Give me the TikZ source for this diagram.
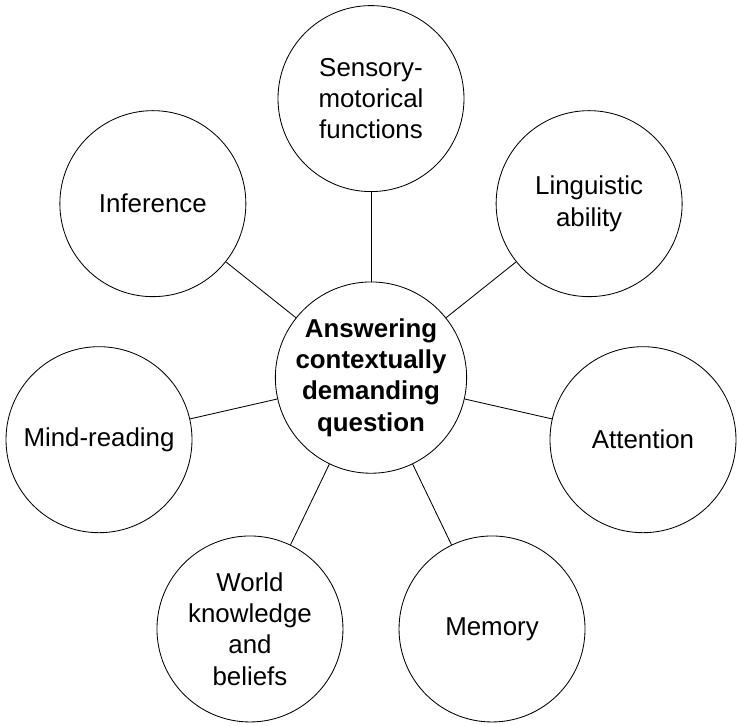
\documentclass[tikz,border=0pt]{standalone}
\usepackage{fontspec}
\setmainfont{Liberation Sans}
\tikzset{
    bubble/.style={draw, circle, minimum size=4.65cm, inner sep=0pt, align=center, line width=0.6pt, font=\fontsize{18.4}{22.3}\selectfont},
    hub/.style={bubble, font=\fontsize{18.4}{22.3}\selectfont\bfseries},
    spoke/.style={line width=0.6pt}
}

\begin{document}
\begin{tikzpicture}

    \useasboundingbox (-9.275,-8.69) rectangle (9.175,9.44);
    \node[hub] (question) at (0,0) {Answering\\contextually\\demanding\\question};
    \node[bubble] (sensory) at (90:6.975) {Sensory-\\motorical\\functions};
    \node[bubble] (inference) at (141.43:6.975) {Inference};
    \node[bubble] (mind) at (192.86:6.975) {Mind-reading};
    \node[bubble] (world) at (244.29:6.975) {World\\knowledge\\and\\beliefs};
    \node[bubble] (memory) at (295.71:6.975) {Memory};
    \node[bubble] (attention) at (347.14:6.975) {Attention};
    \node[bubble] (linguistic) at (38.57:6.975) {Linguistic\\ability};
    \draw[spoke] (question) -- (sensory);
    \draw[spoke] (question) -- (inference);
    \draw[spoke] (question) -- (mind);
    \draw[spoke] (question) -- (world);
    \draw[spoke] (question) -- (memory);
    \draw[spoke] (question) -- (attention);
    \draw[spoke] (question) -- (linguistic);
\end{tikzpicture}
\end{document}
